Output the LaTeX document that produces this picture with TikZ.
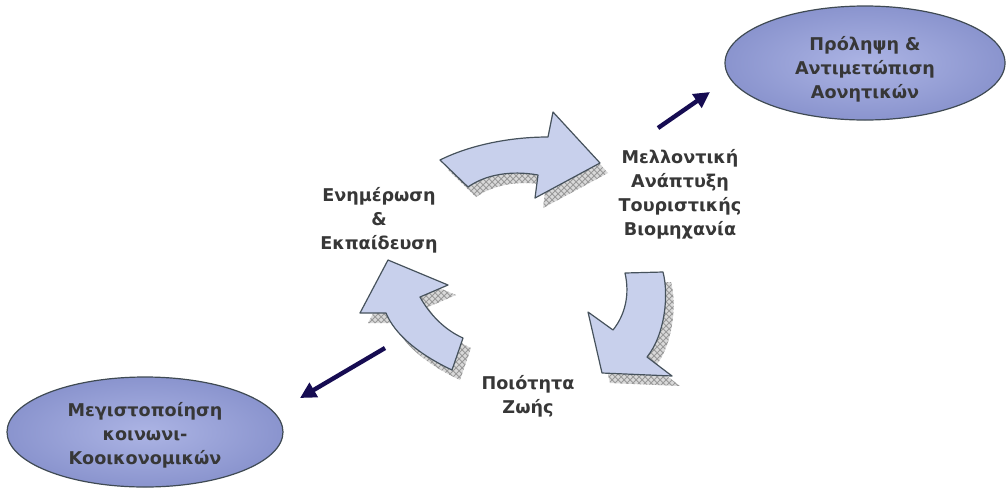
\documentclass[tikz,border=0pt]{standalone}
\usepackage{fontspec}
\setmainfont{DejaVu Sans}
\usetikzlibrary{shapes.geometric, patterns, arrows.meta}

\definecolor{arrowfill}{RGB}{200,208,236}
\definecolor{arrowline}{RGB}{70,82,92}
\definecolor{ellinner}{RGB}{172,180,228}
\definecolor{ellouter}{RGB}{138,148,206}
\definecolor{navyline}{RGB}{22,12,82}
\definecolor{textgray}{RGB}{55,55,55}

% Block arrow outlines (pixel units)
\newcommand{\toparrowpath}{(440,160) .. controls (470,145) and (510,137) .. (548,137)
    -- (553,112) -- (600,163) -- (535,198) -- (538,175)
    .. controls (510,170) and (485,175) .. (468,187) -- cycle}
\newcommand{\rightarrowpath}{(625,273) -- (663,272)
    .. controls (669,295) and (665,335) .. (647,357)
    -- (672,376) -- (602,373) -- (588,312) -- (613,330)
    .. controls (625,315) and (630,295) .. (625,273) -- cycle}
\newcommand{\leftarrowpath}{(388,260) -- (448,285) -- (420,297)
    .. controls (430,315) and (445,330) .. (463,338)
    -- (452,370) .. controls (420,355) and (395,335) .. (386,313)
    -- (360,313) -- cycle}

\tikzset{
    blockarrow/.style={fill=arrowfill, draw=arrowline, line width=0.6pt, line join=round},
    blockshadow/.style={fill=gray!30, pattern color=gray!80, shift={(8,10)}},
    goalellipse/.style={ellipse, draw=arrowline!90!black, line width=0.6pt, inner sep=0pt,
        inner color=ellinner, outer color=ellouter,
        align=center, text=textgray, font=\bfseries\fontsize{8.8}{12}\selectfont},
    steplabel/.style={align=center, text=textgray, font=\bfseries\fontsize{8.8}{12}\selectfont},
    navyarrow/.style={draw=navyline, line width=2.2pt, -{Triangle[length=8pt,width=8pt]}}
}

\begin{document}
\begin{tikzpicture}[x=0.5pt, y=-0.5pt]
    \useasboundingbox (0,0) rectangle (1006,488);

    % Shadows
    \fill[blockshadow] \toparrowpath;
    \fill[blockshadow, pattern=crosshatch] \toparrowpath;
    \fill[blockshadow] \rightarrowpath;
    \fill[blockshadow, pattern=crosshatch] \rightarrowpath;
    \fill[blockshadow] \leftarrowpath;
    \fill[blockshadow, pattern=crosshatch] \leftarrowpath;

    % Cycle arrows
    \draw[blockarrow] \toparrowpath;
    \draw[blockarrow] \rightarrowpath;
    \draw[blockarrow] \leftarrowpath;

    % Step labels
    \node[steplabel] (inform) at (379,220) {Ενημέρωση\\\&\\Εκπαίδευση};
    \node[steplabel] (future) at (680,194) {Μελλοντική\\Ανάπτυξη\\Τουριστικής\\Βιομηχανία};
    \node[steplabel] (life) at (528,396) {Ποιότητα\\Ζωής};

    % Goals
    \node[goalellipse, minimum width=140pt, minimum height=57pt] (prevent) at (865,63)
        {\rule{0pt}{13pt}Πρόληψη \&\\Αντιμετώπιση\\Αονητικών};
    \node[goalellipse, minimum width=138pt, minimum height=55pt] (maximise) at (145,432)
        {\rule{0pt}{10pt}Μεγιστοποίηση\\κοινωνι-\\Κοοικονομικών};

    % Outgoing arrows
    \coordinate (upstart) at (658,128);
    \coordinate (upend) at (710,92);
    \coordinate (downstart) at (385,348);
    \coordinate (downend) at (300,398);
    \draw[navyarrow] (upstart) -- (upend);
    \draw[navyarrow] (downstart) -- (downend);
\end{tikzpicture}
\end{document}
